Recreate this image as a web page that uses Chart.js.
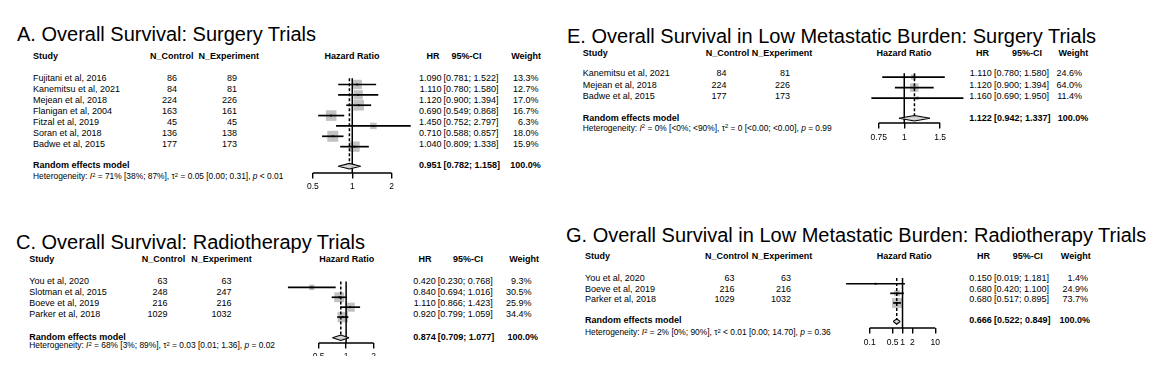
<!DOCTYPE html>
<html><head><meta charset="utf-8">
<script src="https://cdn.jsdelivr.net/npm/chart.js@4.4.1/dist/chart.umd.min.js"></script>
<style>
html,body{margin:0;padding:0;background:#fff;}
#root{position:relative;width:1174px;height:381px;overflow:hidden;font-family:Arial,"Liberation Sans",Helvetica,sans-serif;color:#000;}
.t{position:absolute;white-space:nowrap;}
.b{font-weight:bold;}
.sup{position:relative;top:-0.45em;font-size:0.7em;line-height:0;}
.box{position:absolute;overflow:hidden;}
canvas{display:block;}
</style></head><body><div id="root"></div>
<script>
// ---------- Panel A: Overall Survival, Surgery Trials ----------
const A_STUDIES = ["Fujitani et al, 2016","Kanemitsu et al, 2021","Mejean et al, 2018","Flanigan et al, 2004","Fitzal et al, 2019","Soran et al, 2018","Badwe et al, 2015"];
const A_NCTRL = [86,84,224,163,45,136,177];
const A_NEXP = [89,81,226,161,45,138,173];
const A_HR = [1.090,1.110,1.120,0.690,1.450,0.710,1.040];
const A_LO = [0.781,0.780,0.900,0.549,0.752,0.588,0.809];
const A_HI = [1.522,1.580,1.394,0.868,2.797,0.857,1.338];
const A_W = [13.3,12.7,17.0,16.7,6.3,18.0,15.9];
const A_SUM = [0.951,0.782,1.158];
const A_TICKS = [0.5,1,2];
const A_HET = 'Heterogeneity: <i>I</i><span class="sup">2</span> = 71% [38%; 87%], τ<span class="sup">2</span> = 0.05 [0.00; 0.31], <i>p</i> &lt; 0.01';

// ---------- Panel C: Overall Survival, Radiotherapy Trials ----------
const C_STUDIES = ["You et al, 2020","Slotman et al, 2015","Boeve et al, 2019","Parker et al, 2018"];
const C_NCTRL = [63,248,216,1029];
const C_NEXP = [63,247,216,1032];
const C_HR = [0.420,0.840,1.110,0.920];
const C_LO = [0.230,0.694,0.866,0.799];
const C_HI = [0.768,1.016,1.423,1.059];
const C_W = [9.3,30.5,25.9,34.4];
const C_SUM = [0.874,0.709,1.077];
const C_TICKS = [0.5,1,2];
const C_HET = 'Heterogeneity: <i>I</i><span class="sup">2</span> = 68% [3%; 89%], τ<span class="sup">2</span> = 0.03 [0.01; 1.36], <i>p</i> = 0.02';

// ---------- Panel E: Low Metastatic Burden, Surgery Trials ----------
const E_STUDIES = ["Kanemitsu et al, 2021","Mejean et al, 2018","Badwe et al, 2015"];
const E_NCTRL = [84,224,177];
const E_NEXP = [81,226,173];
const E_HR = [1.110,1.120,1.160];
const E_LO = [0.780,0.900,0.690];
const E_HI = [1.580,1.394,1.950];
const E_W = [24.6,64.0,11.4];
const E_SUM = [1.122,0.942,1.337];
const E_TICKS = [0.75,1,1.5];
const E_HET = 'Heterogeneity: <i>I</i><span class="sup">2</span> = 0% [&lt;0%; &lt;90%], τ<span class="sup">2</span> = 0 [&lt;0.00; &lt;0.00], <i>p</i> = 0.99';

// ---------- Panel G: Low Metastatic Burden, Radiotherapy Trials ----------
const G_STUDIES = ["You et al, 2020","Boeve et al, 2019","Parker et al, 2018"];
const G_NCTRL = [63,216,1029];
const G_NEXP = [63,216,1032];
const G_HR = [0.150,0.680,0.680];
const G_LO = [0.019,0.420,0.517];
const G_HI = [1.181,1.100,0.895];
const G_W = [1.4,24.9,73.7];
const G_SUM = [0.666,0.522,0.849];
const G_TICKS = [0.1,0.5,1,2,10];
const G_HET = 'Heterogeneity: <i>I</i><span class="sup">2</span> = 2% [0%; 90%], τ<span class="sup">2</span> &lt; 0.01 [0.00; 14.70], <i>p</i> = 0.36';

const root = document.getElementById('root');
const FONT = 'Arial, "Liberation Sans", Helvetica, sans-serif';

function put(html, x, yc, o) {
  o = o || {};
  const size = o.size || 9;
  const d = document.createElement('div');
  d.className = 't' + (o.bold ? ' b' : '');
  d.innerHTML = html;
  d.style.fontSize = size + 'px';
  d.style.lineHeight = size + 'px';
  const base = (o.base !== undefined) ? o.base : yc + 0.34 * size;
  d.style.top = (base - 0.8465 * size) + 'px';
  d.style.left = x + 'px';
  if (o.align === 'right') d.style.transform = 'translateX(-100%)';
  if (o.align === 'center') d.style.transform = 'translateX(-50%)';
  root.appendChild(d);
}

function plot(L, D) {
  const axisH = 22;
  const cw = L.right - L.left;
  const ch = (L.axisY - L.top) + axisH;
  const box = document.createElement('div');
  box.className = 'box';
  box.style.left = L.left + 'px';
  box.style.top = L.top + 'px';
  box.style.width = cw + 'px';
  box.style.height = (L.clipBottom ? Math.min(ch, L.clipBottom - L.top) : ch) + 'px';
  const cv = document.createElement('canvas');
  cv.width = cw; cv.height = ch;
  cv.style.width = cw + 'px'; cv.style.height = ch + 'px';
  box.appendChild(cv); root.appendChild(box);

  const toRow = y => (y - L.row0) / L.rowH;
  const xmin = Math.exp((L.left - L.x1) / L.k), xmax = Math.exp((L.right - L.x1) / L.k);
  const yMin = toRow(L.top), yMax = toRow(L.axisY);
  const ySum = toRow(L.sumY), yTop = toRow(L.vTop);
  const dh = L.diamondH / L.rowH;
  const wMax = Math.max.apply(null, D.w);
  const ticks = D.ticks;
  const ds = [];
  const line = (pts, extra) => Object.assign({data: pts, showLine: true, borderColor: '#000', borderWidth: 1.5, pointRadius: 0, clip: false, fill: false}, extra || {});

  ds.push(line([{x:1,y:yTop},{x:1,y:yMax}], {order: 3}));
  ds.push(line([{x:D.sum[0],y:yTop},{x:D.sum[0],y:ySum-dh}], {order: 3, borderDash: [3,2]}));
  ds.push({data: D.hr.map((v,i)=>({x:v,y:i})), showLine:false, pointStyle:'rect', backgroundColor:'#c2c2c2', borderWidth:0,
           pointRadius: D.w.map(w => L.sqMax*Math.sqrt(w/wMax)/Math.SQRT2), order: 10, clip:false});
  D.hr.forEach((v,i) => ds.push(line([{x:D.lo[i],y:i},{x:D.hi[i],y:i}], {order: 2, borderWidth: 1.7})));
  ds.push({data: D.hr.map((v,i)=>({x:v,y:i})), showLine:false, pointStyle:'rect', backgroundColor:'#000', borderWidth:0, pointRadius:1.3, order: 0, clip:false});
  const fillOpt = {target:{value:ySum}, above:'#cfcfcf', below:'#cfcfcf'};
  ds.push(line([{x:D.sum[1],y:ySum},{x:D.sum[0],y:ySum-dh},{x:D.sum[2],y:ySum}], {order: 1, borderWidth: 1.1, fill: fillOpt, backgroundColor:'#cfcfcf'}));
  ds.push(line([{x:D.sum[1],y:ySum},{x:D.sum[0],y:ySum+dh},{x:D.sum[2],y:ySum}], {order: 1, borderWidth: 1.1, fill: fillOpt, backgroundColor:'#cfcfcf'}));
  ds.push(line([{x:ticks[0],y:yMax},{x:ticks[ticks.length-1],y:yMax}], {order: 3, borderWidth: 1.4}));

  new Chart(cv, {
    type: 'line',
    data: {datasets: ds},
    options: {
      responsive: false, maintainAspectRatio: false, animation: false, events: [],
      layout: {padding: 0},
      plugins: {legend: {display:false}, tooltip: {enabled:false}},
      scales: {
        x: {
          type: 'logarithmic', min: xmin, max: xmax,
          afterBuildTicks: a => { a.ticks = ticks.map(v => ({value: v})); },
          afterFit: a => { a.height = axisH; },
          border: {display: false},
          grid: {display: true, drawOnChartArea: false, drawTicks: true, tickLength: 5.5, color: '#000', lineWidth: 1.4},
          ticks: {callback: v => String(v), autoSkip: false, maxRotation: 0, minRotation: 0, padding: L.tickPad,
                  color: '#000', font: {family: FONT, size: 8.5}}
        },
        y: {type: 'linear', reverse: true, min: yMin, max: yMax, display: false}
      }
    }
  });
}

function panel(P) {
  const D = P.D, T = P.T;
  put(P.title, T.titleX, 0, {size: 20, base: T.titleBase});
  // headers
  put('Study', T.studyX, T.headerY, {bold: true});
  put('N_Control', T.ncHL, T.headerY, {bold: true});
  put('N_Experiment', T.neHR, T.headerY, {bold: true, align: 'right'});
  put('Hazard Ratio', T.hzC, T.headerY, {bold: true, align: 'center'});
  put('HR', T.hrHC, T.headerY, {bold: true, align: 'center'});
  put('95%-CI', T.ciHC, T.headerY, {bold: true, align: 'center'});
  put('Weight', T.wHR, T.headerY, {bold: true, align: 'right'});
  D.studies.forEach((s, i) => {
    const y = P.L.row0 + i * P.L.rowH;
    put(s, T.studyX, y);
    put(String(D.nc[i]), T.ncR, y, {align: 'right'});
    put(String(D.ne[i]), T.neR, y, {align: 'right'});
    put(D.hr[i].toFixed(3), T.hrR, y, {align: 'right'});
    put('[' + D.lo[i].toFixed(3) + '; ' + D.hi[i].toFixed(3) + ']', T.ciL, y);
    put(D.w[i].toFixed(1) + '%', T.wR, y, {align: 'right'});
  });
  const sy = P.L.sumY;
  const wTot = D.w.reduce((a, b) => a + b, 0);
  put('Random effects model', T.studyX, sy, {bold: true});
  put(D.sum[0].toFixed(3), T.hrR, sy, {bold: true, align: 'right'});
  put('[' + D.sum[1].toFixed(3) + '; ' + D.sum[2].toFixed(3) + ']', T.ciL, sy, {bold: true});
  put((Math.round(wTot / 100) * 100).toFixed(1) + '%', T.wSR, sy, {bold: true, align: 'right'});
  put(P.het, T.studyX, T.hetY, {size: 8.4});
  plot(P.L, D);
}

panel({
  title: 'A. Overall Survival: Surgery Trials',
  D: {studies:A_STUDIES, nc:A_NCTRL, ne:A_NEXP, hr:A_HR, lo:A_LO, hi:A_HI, w:A_W, sum:A_SUM, ticks:A_TICKS},
  het: A_HET,
  T: {titleX:17, titleBase:41, headerY:56.7, studyX:33, ncHL:150, neHR:259, hzC:352, hrHC:433, ciHC:466.5, wHR:541,
      ncR:177, neR:237, hrR:441.5, ciL:443.5, wR:538.5, wSR:540.7, hetY:176.7},
  L: {left:298, right:432, top:62, x1:350.7, k:63.8, row0:78.3, rowH:11.12, sumY:166, axisY:173.3, vTop:71.7, sqMax:11, diamondH:3, tickPad:3}
});
panel({
  title: 'C. Overall Survival: Radiotherapy Trials',
  D: {studies:C_STUDIES, nc:C_NCTRL, ne:C_NEXP, hr:C_HR, lo:C_LO, hi:C_HI, w:C_W, sum:C_SUM, ticks:C_TICKS},
  het: C_HET,
  T: {titleX:16, titleBase:248.5, headerY:259.3, studyX:29.3, ncHL:141.7, neHR:251.7, hzC:346.7, hrHC:425, ciHC:468, wHR:539,
      ncR:167.5, neR:231.5, hrR:435.7, ciL:437.7, wR:531.5, wSR:538, hetY:345.7},
  L: {left:272, right:402, top:266, x1:347.3, k:44.7, row0:281.5, rowH:11, sumY:337.5, axisY:343.3, vTop:275, sqMax:10.5, diamondH:3, tickPad:3, clipBottom:355.5}
});
panel({
  title: 'E. Overall Survival in Low Metastatic Burden: Surgery Trials',
  D: {studies:E_STUDIES, nc:E_NCTRL, ne:E_NEXP, hr:E_HR, lo:E_LO, hi:E_HI, w:E_W, sum:E_SUM, ticks:E_TICKS},
  het: E_HET,
  T: {titleX:567, titleBase:43, headerY:53.3, studyX:582.7, ncHL:705.7, neHR:812.3, hzC:904, hrHC:982.5, ciHC:1027, wHR:1088.3,
      ncR:726.5, neR:790, hrR:991.7, ciL:994, wR:1082, wSR:1088.3, hetY:128.3},
  L: {left:855, right:985, top:60, x1:902.7, k:95, row0:74, rowH:11.35, sumY:118.2, axisY:123.3, vTop:70, sqMax:8.5, diamondH:3, tickPad:4}
});
panel({
  title: 'G. Overall Survival in Low Metastatic Burden: Radiotherapy Trials',
  D: {studies:G_STUDIES, nc:G_NCTRL, ne:G_NEXP, hr:G_HR, lo:G_LO, hi:G_HI, w:G_W, sum:G_SUM, ticks:G_TICKS},
  het: G_HET,
  T: {titleX:566, titleBase:242, headerY:256.7, studyX:585, ncHL:705, neHR:812.3, hzC:904.3, hrHC:983.5, ciHC:1027.8, wHR:1090.7,
      ncR:734.5, neR:791, hrR:991.7, ciL:994, wR:1088, wSR:1090, hetY:332.7},
  L: {left:830, right:962, top:264, x1:903.3, k:15.94, row0:278.3, rowH:10.85, sumY:321, axisY:328.3, vTop:271.7, sqMax:10, diamondH:3, tickPad:4}
});
</script></body></html>
